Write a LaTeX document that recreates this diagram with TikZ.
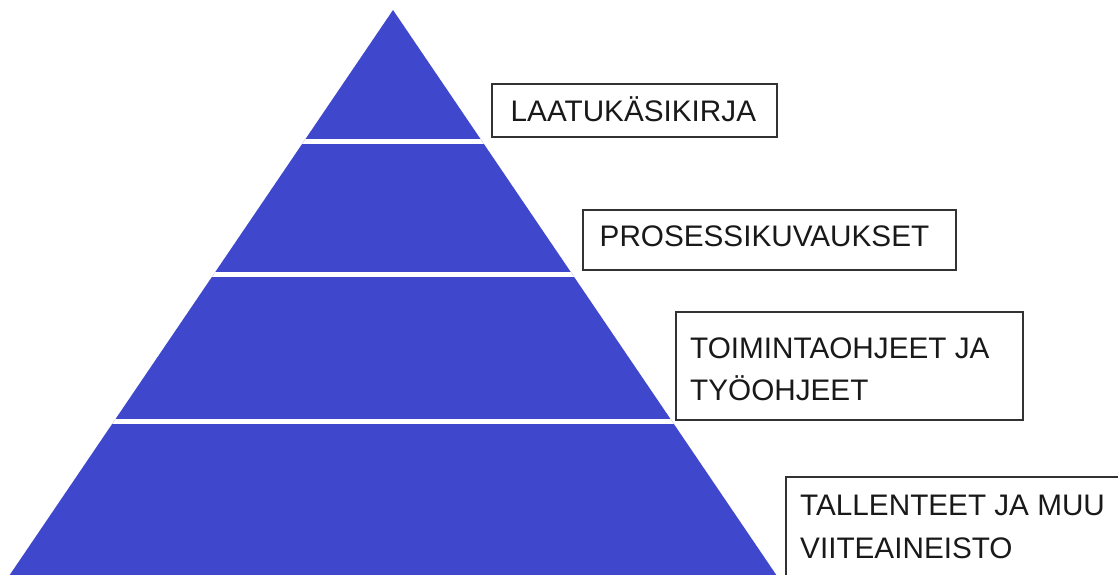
\documentclass[tikz,border=0pt]{standalone}
\usepackage{fontspec}
\setmainfont{Liberation Sans}
\definecolor{pyr}{RGB}{63,72,204}
\definecolor{boxline}{RGB}{50,50,50}
\begin{document}
\begin{tikzpicture}[x=1pt,y=-1pt,
  lbl/.style={anchor=base west,inner sep=0pt,font=\fontsize{29.7}{42.7}\selectfont,align=left,text=black!90},
  lbox/.style={draw=boxline,line width=1.8pt,anchor=north west,inner sep=0pt},
  gap/.style={draw=white,line width=5pt}]
\useasboundingbox (0,0) rectangle (1118,574);
\clip (0,0) rectangle (1118,574);
\coordinate (apex) at (393,10);
\coordinate (bl) at (-10,604);
\coordinate (br) at (796,604);
\fill[pyr] (apex) -- (bl) -- (br) -- cycle;
\begin{scope}
\clip (apex) -- (bl) -- (br) -- cycle;
\coordinate (g1a) at (0,141.5); \coordinate (g1b) at (800,141.5);
\coordinate (g2a) at (0,274.5); \coordinate (g2b) at (800,274.5);
\coordinate (g3a) at (0,421.5); \coordinate (g3b) at (800,421.5);
\draw[gap] (g1a) -- (g1b);
\draw[gap] (g2a) -- (g2b);
\draw[gap] (g3a) -- (g3b);
\end{scope}
\node[lbox,minimum width=285,minimum height=53] (b1) at (491,83) {};
\node[lbox,minimum width=373,minimum height=60] (b2) at (582,209) {};
\node[lbox,minimum width=347,minimum height=108] (b3) at (675,311) {};
\node[lbox,minimum width=360,minimum height=140] (b4) at (785,476) {};
\node[lbl] (t1) at (510.5,121.7) {LAATUKÄSIKIRJA};
\node[lbl] (t2) at (599.5,246.7) {PROSESSIKUVAUKSET};
\node[lbl] (t3) at (690,400.7) {TOIMINTAOHJEET JA\\TYÖOHJEET};
\node[lbl] (t4) at (800,558) {TALLENTEET JA MUU\\VIITEAINEISTO};
\end{tikzpicture}
\end{document}
